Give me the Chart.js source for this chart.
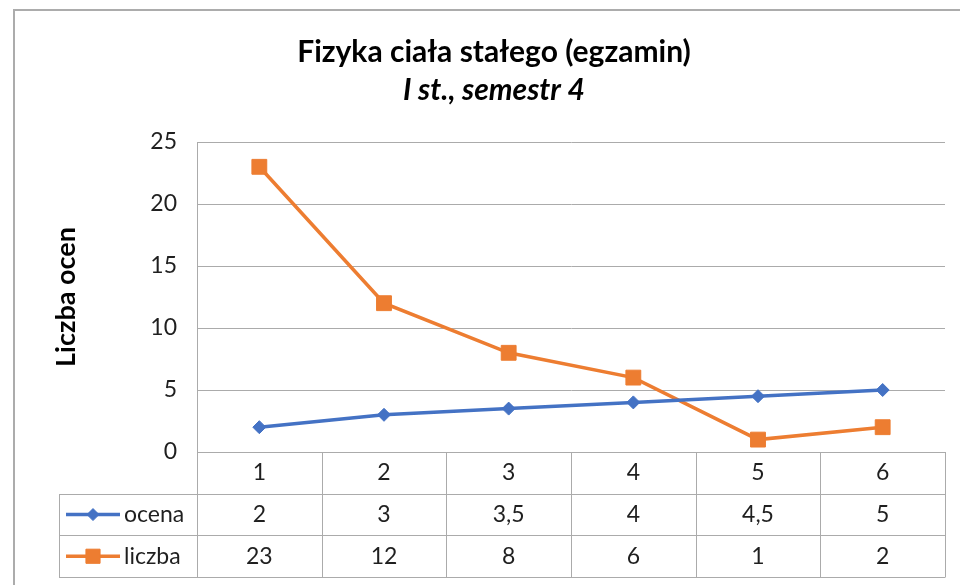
<!DOCTYPE html>
<html>
<head>
<meta charset="utf-8">
<script src="https://cdn.jsdelivr.net/npm/chart.js@4.4.1/dist/chart.umd.min.js"></script>
<style>
  html, body { margin: 0; padding: 0; background: #fff; }
  #wrap { width: 960px; height: 585px; }
</style>
</head>
<body>
<div id="wrap"><canvas id="chart"></canvas></div>
<script>
// data
const categories = ["1", "2", "3", "4", "5", "6"];
const ocena = [2, 3, 3.5, 4, 4.5, 5];
const liczba = [23, 12, 8, 6, 1, 2];
const yTicks = [0, 5, 10, 15, 20, 25];

const FONT = "Lato, 'Open Sans', sans-serif";
const LINE = "#ababab";
const TEXT = "#1f1f1f";

// polish decimal comma
const fmt = v => String(v).replace(".", ",");

// grey frame of the whole chart object (cut off at right/bottom like in the screenshot)
const chartFrame = {
  id: "chartFrame",
  beforeDraw(chart) {
    const ctx = chart.ctx;
    ctx.save();
    ctx.strokeStyle = "#acacac";
    ctx.lineWidth = 2;
    ctx.strokeRect(14, 10, 2000, 2000);
    ctx.restore();
  }
};

// excel-style data table under the plot, columns taken from the x scale
const dataTable = {
  id: "dataTable",
  afterDraw(chart) {
    const { ctx, chartArea, scales } = chart;
    const x = scales.x;
    const top = chartArea.bottom;
    const rowH = 41.7;
    const keyLeft = 59;

    const edges = [chartArea.left];
    for (let i = 0; i < categories.length - 1; i++) {
      edges.push((x.getPixelForValue(i) + x.getPixelForValue(i + 1)) / 2);
    }
    edges.push(chartArea.right);

    ctx.save();
    ctx.strokeStyle = LINE;
    ctx.lineWidth = 1;
    ctx.beginPath();
    for (let r = 1; r <= 3; r++) {
      const yy = Math.round(top + r * rowH) + 0.5;
      ctx.moveTo(keyLeft, yy);
      ctx.lineTo(chartArea.right, yy);
    }
    edges.forEach(e => {
      const xx = Math.round(e) + 0.5;
      ctx.moveTo(xx, top);
      ctx.lineTo(xx, Math.round(top + 3 * rowH) + 0.5);
    });
    ctx.moveTo(keyLeft + 0.5, Math.round(top + rowH));
    ctx.lineTo(keyLeft + 0.5, Math.round(top + 3 * rowH) + 0.5);
    ctx.stroke();

    ctx.font = `23px ${FONT}`;
    ctx.textBaseline = "middle";
    ctx.textAlign = "center";
    ctx.fillStyle = TEXT;
    categories.forEach((c, i) => ctx.fillText(c, x.getPixelForValue(i), top + rowH / 2));

    chart.data.datasets.forEach((ds, r) => {
      const cy = top + rowH * (r + 1.5);
      ctx.fillStyle = TEXT;
      ctx.textAlign = "center";
      ds.data.forEach((v, i) => ctx.fillText(fmt(v), x.getPixelForValue(i), cy));

      // legend key
      ctx.strokeStyle = ds.borderColor;
      ctx.lineWidth = 3.5;
      ctx.beginPath();
      ctx.moveTo(66, cy);
      ctx.lineTo(120, cy);
      ctx.stroke();
      ctx.fillStyle = ds.borderColor;
      ctx.lineWidth = 1;
      Chart.helpers.drawPoint(ctx, { pointStyle: ds.pointStyle, radius: ds.pointRadius - 0.5, borderWidth: 1, rotation: 0 }, 93, cy);

      ctx.fillStyle = TEXT;
      ctx.textAlign = "left";
      ctx.fillText(ds.label, 124, cy);
    });
    ctx.restore();
  }
};

new Chart(document.getElementById("chart"), {
  type: "line",
  data: {
    labels: categories,
    datasets: [
      {
        label: "ocena",
        data: ocena,
        borderColor: "#4472C4",
        backgroundColor: "#4472C4",
        pointBackgroundColor: "#4472C4",
        pointBorderColor: "#4472C4",
        borderWidth: 3.5,
        pointStyle: "rectRot",
        pointRadius: 6.5,
        pointBorderWidth: 1
      },
      {
        label: "liczba",
        data: liczba,
        borderColor: "#ED7D31",
        backgroundColor: "#ED7D31",
        pointBackgroundColor: "#ED7D31",
        pointBorderColor: "#ED7D31",
        borderWidth: 3.5,
        pointStyle: "rect",
        pointRadius: 10.5,
        pointBorderWidth: 1
      }
    ]
  },
  options: {
    responsive: true,
    maintainAspectRatio: false,
    animation: false,
    layout: { padding: { left: 43, right: 15, top: 0, bottom: 133 } },
    plugins: {
      legend: { display: false },
      tooltip: { enabled: false },
      title: {
        display: true,
        text: "Fizyka ciała stałego (egzamin)",
        color: "#000",
        font: { family: FONT, size: 30, weight: "bold", lineHeight: 1.2 },
        padding: { top: 34, bottom: 0 }
      },
      subtitle: {
        display: true,
        text: "I st., semestr 4",
        color: "#000",
        font: { family: FONT, size: 30, weight: "bold", style: "italic", lineHeight: 1.2 },
        padding: { top: 2, bottom: 34 }
      }
    },
    scales: {
      x: { display: false, offset: true },
      y: {
        min: 0,
        max: 25,
        afterBuildTicks: s => { s.ticks = yTicks.map(v => ({ value: v })); },
        afterFit: s => { s.width = 154; },
        grid: { color: LINE, drawTicks: false },
        border: { color: LINE },
        ticks: { padding: 20, color: TEXT, font: { family: FONT, size: 23 } },
        title: {
          display: true,
          text: "Liczba ocen",
          color: "#000",
          font: { family: FONT, size: 27, weight: "bold", lineHeight: 1.2 },
          padding: { top: 6.8, bottom: 0 }
        }
      }
    }
  },
  plugins: [chartFrame, dataTable]
});
</script>
</body>
</html>
